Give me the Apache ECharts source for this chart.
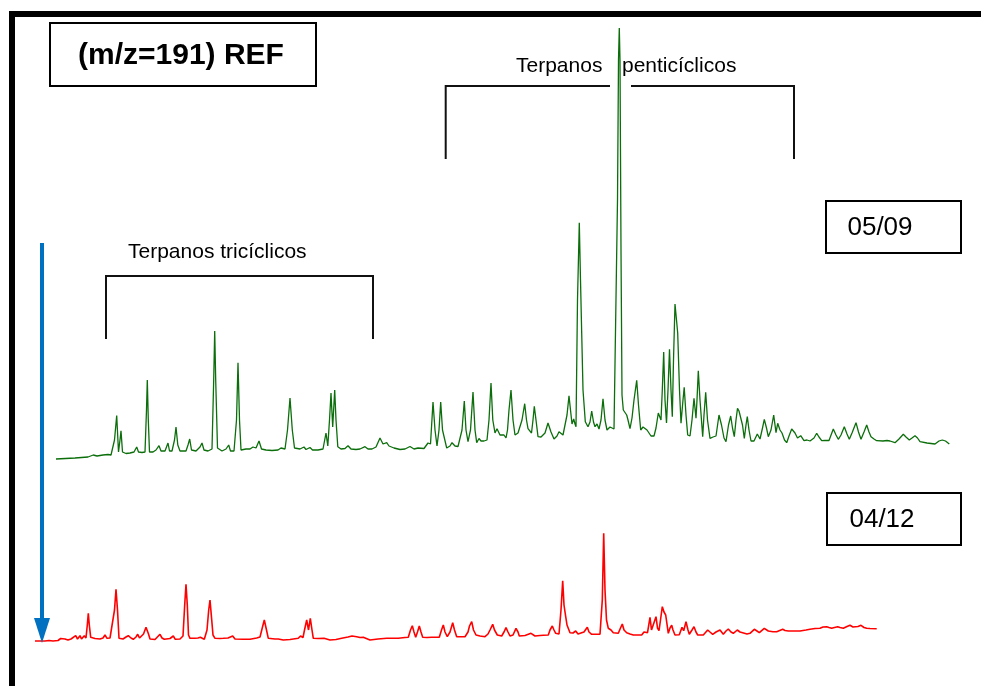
<!DOCTYPE html>
<html>
<head>
<meta charset="utf-8">
<script src="https://cdn.jsdelivr.net/npm/echarts@6/dist/echarts.min.js"></script>
<style>html,body{margin:0;padding:0;background:#fff;}#c{width:981px;height:686px;}</style>
</head>
<body>
<div id="c"></div>
<script>
// Retention position (x) and intensity above reference (y)
var greenX = [56,75,88,93.3,97,103,108,109.5,111,113,114.5,116.7,118.5,120,121,122.5,126,130,134,136.7,138.5,142,145,146.5,147.3,148.3,149.5,153,156,159,161,165,168,169.5,172,174.5,176,177.8,180,186,188,189.7,191.5,196,200,202,204,208,212,213.7,214.7,215.7,217.5,222,226,228.7,230.5,234,236.5,238,239.5,241,246,248,250,253,256,259,261.5,266,272,278,281,283,285,287.5,290,292.3,294.5,300,304,306,310,312.5,318,323,326,327.8,329.5,331,332.7,334.7,336,337.8,341,345,348,351,356,360,365,368,372,376,380,383,386.7,389,394,396,400,405,410,414,418,420,424,428,430.5,433,435,437,439,440.7,442.5,446.7,450,452,455,458,460,462,464.3,466,468,470.5,473,475,476.7,479,481,484,487,489,491,492.8,495,497,500,502,504,506,507.5,509,511,513,515,518,520,522,524.7,526.5,528,530,531.5,533,534.3,536,538,541,545,548,551,554,557,559,561,563,565,567,569,570.5,572,573.7,575,576,577.5,579.3,580.5,581.7,583,585.3,588,590,591.7,593.5,595,597,599,601,603,605,607,610,612,614,616,617.5,618.5,619.3,620,621,622,623.3,625,626.7,628,630,632,634,636.7,638.5,640.7,643,645,647,649,651,654,656,658.3,661,662.3,663.7,665,666.5,668,669.5,671,672.3,673.5,675,676.5,677.7,679.5,681,683,684.2,686,687.7,690,692,694,696,697,698.3,700,702.7,704,705.7,707.5,710,713,716,719,721.5,724,726,728.5,730.7,732.5,734.3,736,737.5,739,741,742.5,744.3,746,747.3,749,751,754,757.3,760,762.5,764.3,766.5,768.3,771,773.7,776,777.7,780,782,784.5,786.7,789,791.7,795,797.5,800.7,804,807,810,811.7,814,816.7,819,821.7,825,829,833.3,836,838.3,841,844.3,847,849.3,852,856,858.5,861,864,866.7,869,871,874,876.7,883,887,890,895,899,903.3,906,909.3,912,915,917.5,920,927,935,939,942.3,945.5,949.3];
var greenY = [11,12,13,15,14,15,15.5,17,15,16,30,54.5,18,30,39.3,18,16.5,17,18,23,18,17.5,18,60,90,50,18,18,20,24.3,19,19,27,19,19,30,43,25,19,19,25,31,20,19,23,27,20,19,21,90,139,90,22,19,21,25,19,19,50,107.3,50,20,21,22.5,21,23,22,29,21,20,19.5,20,22,24,21,40,72,40,22,21,23,20.5,22.5,20,20,21,37,24,50,77,43,80,50,23.3,21,21.5,24.3,21,20.5,21,23.3,21,21,23,32,26,27.3,24,22,21,20.5,21,23.5,21,22,23.3,21.5,27,26,68,40,24,40,68,40,22,24,27.3,24,23.5,24,40,69,40,28.3,40,78,40,27.3,31.5,29,29,30,50,87,50,37,41.3,35,36,35,32,40,60,80,50,35,37,36,50,66.3,50,41.3,40,37,50,63.7,50,33.3,33,37,47,38,31,34,38.3,37,35,36,55,74.3,60,46,51,46,43.3,170,247.3,190,137,80,48.3,43.3,48,59,48,43.3,46,41,50,71.3,50,40,43,43.3,41,41,270,410,442,410,220,75,60,58,55,50,41.3,52,70,89.7,65,40,43,45,40,37,34,34,42,57,50,80,118,70,47,80,120.7,80,53.3,110,166,150,137,80,46.7,70,82.7,55,35,34,50,71.7,51.7,70,99.3,70,33.3,55,77.7,50,31.7,33,34,55,45,32,28.3,45,54,42,33.3,50,61.7,59,60,45,31.7,45,53.3,40,29,29,36,31,42,50.7,42,33.3,40,55,37.3,46.7,40,37,30,27.3,34,41,37,32,34.3,29.3,30,29,27.3,32,36.7,33,29.3,29.5,29.5,41,35,30.7,35,43.3,36,30.7,37,47.3,38,30.7,38,45,38,33.3,31,29.3,29,29.5,29,27.3,31,35.7,33,30,32,34.3,32,28.3,27,26,29,30,29,26];
var redX = [35,45,49,51,53,58,60.7,62.5,65,66.5,68,71,71.7,73,75.7,77.5,80,81.5,84.3,86,87.3,88.3,89.3,90.7,95,100,103,105,107,110,112,114.5,116,117.5,119,123,126,128.3,131,133.3,136,137.7,139.5,140.7,143.5,146,148.5,150,155,160,162,164.3,170,173.3,175.3,180,183,184.7,186,187.3,188.5,190,195,198,200.3,202,204.3,207,208.7,210,211.3,213,215,220,223.3,228,232.7,235,236.7,243,250,256.7,260,262.5,264.3,266.5,268.3,275,278.3,283.3,290,298.3,300.5,301.7,303,304.5,306.7,308.5,310.3,312,313.3,318,324,330,336,341.7,348,352,356.7,360,363.3,370,378,386.7,393,398.3,400,405,408.3,410.5,412.3,414,415.7,417.5,419.3,421,422.7,427,431.7,435,439.3,441.5,443.3,445,447.3,450,452.7,454.5,456.7,460,465,468,469.5,471.7,473.5,476,480,485,488,490,492.7,494.5,497.3,501.7,504,506,508,510,513,516,518,519.3,525,531,535,540,543.3,548.3,550,552.3,554,555.7,559,561,562.7,564,565.7,567,570,573,575.7,578,580,584,587.3,589,591.7,595,600,602.3,603.7,605,606.5,608.3,611,613.3,618.3,620.5,622.3,624,626.7,630,633.3,637,641.7,644,646,647.5,650,651.5,653.3,656,657.5,659,660.5,662.3,664,665.7,668.3,670,671.7,673,675,679.3,682,683.7,686,688,689.3,692,694,696,697.7,703.3,707.7,710,712.7,716,720,723.3,726,728.3,731,733.3,737.3,740,741.7,747,750,754.3,757,759.3,764.3,768.3,773,776.7,782.7,785,788.3,795,800,806,810,815,820,823,826.7,829,831.7,834.5,837.7,840,843.3,847,850,853,855,858,861,864,866.7,870,876.7];
var redY = [9,9,9.5,10.7,9,9.5,11.5,9.5,11,12.5,10,11,12.7,10.5,14.3,11,14.3,11,14.3,12,25,36.7,25,12.7,11.5,11,12,15,11.7,12,11.5,40,60.7,40,11.7,11,13,14.3,12,10.7,13,15.7,12,10.7,16,22.7,16,11,10.5,15.7,12,10.7,11.5,14,10.7,11,14,45,65.7,45,15,11.7,11.7,12,12.7,11,10.7,20,40,50,35,15,11.7,11.5,11.7,12,14,11,10.7,10.7,10.7,12,13,23,30,20,11.7,11,11,10,10.5,11.7,14,15.7,12.5,20,30,20,31.7,20,11.7,11.5,11.7,10,10.5,11.7,13,14,13.3,12.5,12.7,10,11,11.7,11.7,11.7,11.7,12.5,12.7,20,24.3,18,12.7,18,24,18,12.7,12.5,12.7,12.7,12.7,20,25,18,13.3,18,27.3,20,13.3,13.3,13.3,18,24,28.3,20,15,14,13.3,16,20,25.7,20,15,14,18,22.3,18,14,15,21.7,18,14,14.5,16.7,14,14.5,14.7,15,20,24,20,16.7,16,40,69.3,45,33.3,25,17.3,17,19,16,15.7,18,22.7,18,15.7,15.7,15.7,50,116.7,60,30,21.7,20,17.3,16.7,22,26,20,17.3,16,15,15,15,18,19.3,17.3,32.7,20,18,33.3,22,19.3,30,43.3,38,35,16.7,22,24.7,20,15,15.3,22.7,19.3,28.3,20,15.7,20,23.3,18,15,15,20,18,15.7,18,20,15.7,19,21,18,16.7,20,18,16,16,16.7,20.7,19,17.3,21.7,19,18.3,18.3,20.7,19.5,19,19,19,20,20.7,21.5,21.7,23,23.3,22.5,21.7,22.5,23.3,22.5,21.7,23.5,24.7,23,21.7,23.5,24.7,22.5,21.7,21.5,21.3];
var titleText = '(m/z=191) REF';
var groupTric = 'Terpanos tricíclicos';
var groupPentA = 'Terpanos';
var groupPentB = 'penticíclicos';
var sampleTop = '05/09';
var sampleBottom = '04/12';

function zip(xs, ys){ var o=[]; for (var i=0;i<xs.length;i++) o.push([xs[i], ys[i]]); return o; }

var FONT = '"Liberation Sans", Arial, sans-serif';
var chart = echarts.init(document.getElementById('c'), null, {renderer:'canvas'});
chart.setOption({
  animation: false,
  backgroundColor: '#ffffff',
  grid: [
    {left:0, right:0, top:10, bottom:216},
    {left:0, right:0, top:480, bottom:36}
  ],
  xAxis: [
    {type:'value', gridIndex:0, min:0, max:981, show:false},
    {type:'value', gridIndex:1, min:0, max:981, show:false}
  ],
  yAxis: [
    {type:'value', gridIndex:0, min:0, max:460, show:false},
    {type:'value', gridIndex:1, min:0, max:170, show:false}
  ],
  series: [
    {type:'line', xAxisIndex:0, yAxisIndex:0, data: zip(greenX, greenY), showSymbol:false, symbol:'none',
     lineStyle:{color:'#0b6e0b', width:1.3}, z:3},
    {type:'line', xAxisIndex:1, yAxisIndex:1, data: zip(redX, redY), showSymbol:false, symbol:'none',
     lineStyle:{color:'#ff0000', width:1.6}, z:3}
  ],
  graphic: [
    {type:'rect', shape:{x:9, y:11, width:972, height:6}, style:{fill:'#000'}, z:10},
    {type:'rect', shape:{x:9, y:11, width:6, height:675}, style:{fill:'#000'}, z:10},
    {type:'rect', shape:{x:50, y:23, width:266, height:63}, style:{fill:'#fff', stroke:'#000', lineWidth:2}, z:5},
    {type:'text', x:181, y:56, style:{text:titleText, font:'bold 30px ' + FONT, fill:'#000', textAlign:'center', textVerticalAlign:'middle'}, z:6},
    {type:'polyline', shape:{points:[[445.7,159],[445.7,86],[610,86]]}, style:{stroke:'#111', lineWidth:2, fill:null}, z:2},
    {type:'polyline', shape:{points:[[631,86],[794,86],[794,159]]}, style:{stroke:'#111', lineWidth:2, fill:null}, z:2},
    {type:'text', x:516, y:66, style:{text:groupPentA, font:'21px ' + FONT, fill:'#000', textAlign:'left', textVerticalAlign:'middle'}, z:2},
    {type:'text', x:622, y:66, style:{text:groupPentB, font:'21px ' + FONT, fill:'#000', textAlign:'left', textVerticalAlign:'middle'}, z:2},
    {type:'polyline', shape:{points:[[106,339],[106,276],[373,276],[373,339]]}, style:{stroke:'#111', lineWidth:2, fill:null}, z:2},
    {type:'text', x:128, y:252, style:{text:groupTric, font:'21px ' + FONT, fill:'#000', textAlign:'left', textVerticalAlign:'middle'}, z:2},
    {type:'rect', shape:{x:826, y:201, width:135, height:52}, style:{fill:'#fff', stroke:'#000', lineWidth:2}, z:5},
    {type:'text', x:880, y:228, style:{text:sampleTop, font:'26px ' + FONT, fill:'#000', textAlign:'center', textVerticalAlign:'middle'}, z:6},
    {type:'rect', shape:{x:827, y:493, width:134, height:52}, style:{fill:'#fff', stroke:'#000', lineWidth:2}, z:5},
    {type:'text', x:882, y:520, style:{text:sampleBottom, font:'26px ' + FONT, fill:'#000', textAlign:'center', textVerticalAlign:'middle'}, z:6},
    {type:'line', shape:{x1:42, y1:243, x2:42, y2:622}, style:{stroke:'#0070c0', lineWidth:4}, z:4},
    {type:'polygon', shape:{points:[[34,618],[50,618],[42,643]]}, style:{fill:'#0070c0'}, z:4}
  ]
});
</script>
</body>
</html>
